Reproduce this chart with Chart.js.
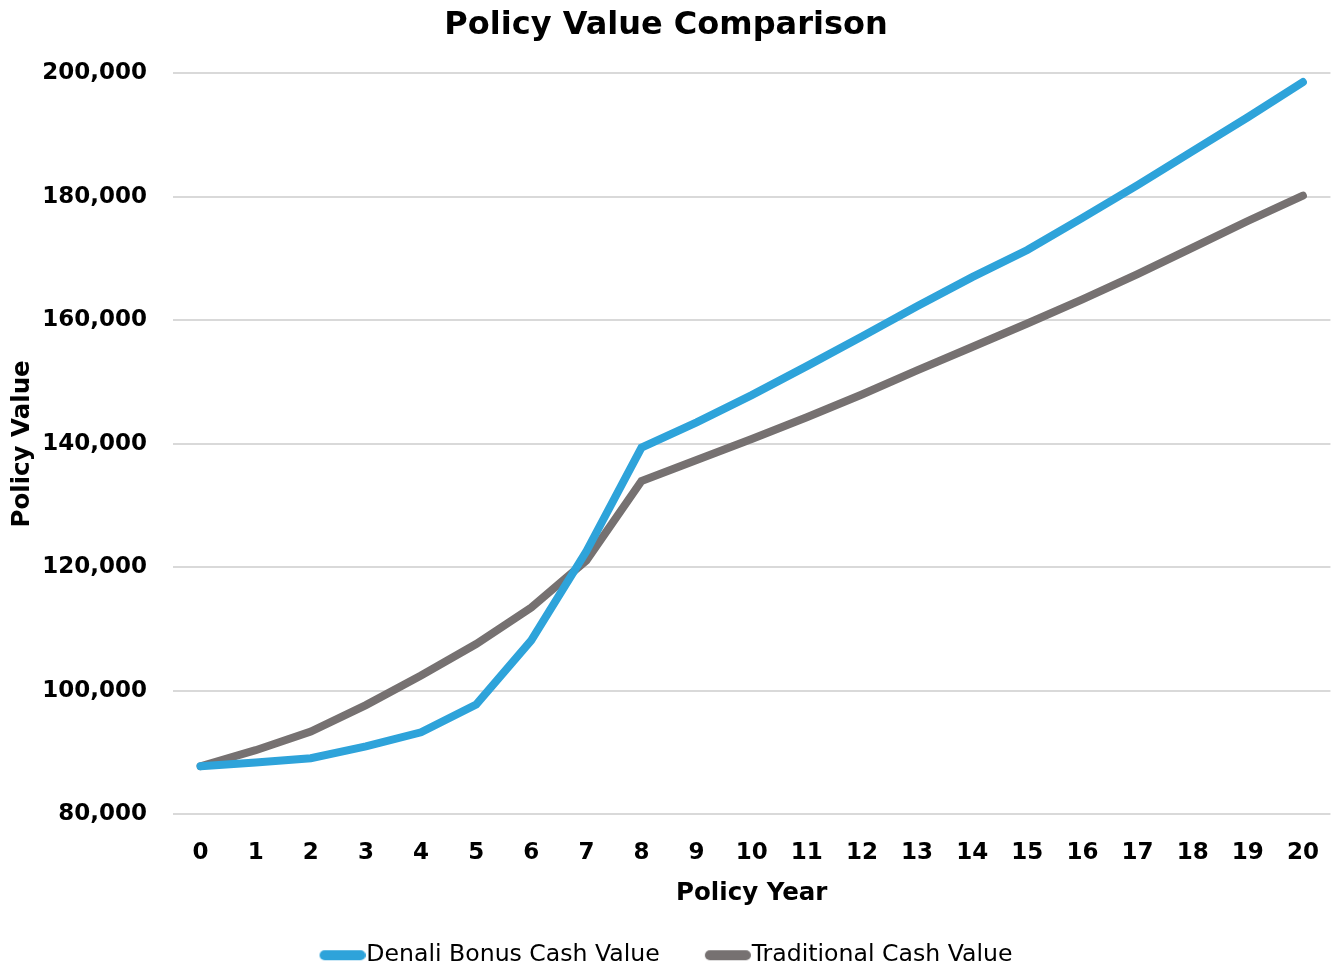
<!DOCTYPE html>
<html>
<head>
<meta charset="utf-8">
<script src="https://cdn.jsdelivr.net/npm/chart.js@4"></script>
<style>
  body { margin: 0; background: #fff; }
  #wrap { width: 1336px; height: 968px; }
</style>
</head>
<body>
<div id="wrap"><canvas id="chart" width="1336" height="968"></canvas></div>
<script>
const years = ['0', '1', '2', '3', '4', '5', '6', '7', '8', '9', '10',
  '11', '12', '13', '14', '15', '16', '17', '18', '19', '20'];

const denaliValues = [87800, 88400, 89100, 91000, 93300, 97800, 108200, 122600, 139400,
  143500, 147900, 152600, 157400, 162300, 167000, 171400, 176600, 181900, 187400, 192900, 198600];

const traditionalValues = [87800, 90400, 93400, 97700, 102500, 107600, 113500, 121100, 134000,
  137400, 140800, 144300, 148000, 151900, 155700, 159500, 163400, 167500, 171800, 176100, 180200];

const yTicks = [80000, 100000, 120000, 140000, 160000, 180000, 200000];

const BLUE = '#2EA3DA';
const GREY = '#767171';
const FONT = "'DejaVu Sans', sans-serif";
const SWATCH_BOX = 35;

// legend swatch: rounded bar that sits right against the label text
function makeSwatch(color) {
  const c = document.createElement('canvas');
  c.width = SWATCH_BOX + 22;
  c.height = 14;
  const g = c.getContext('2d');
  g.strokeStyle = color;
  g.lineWidth = 10;
  g.lineCap = 'round';
  g.beginPath();
  g.moveTo(c.width - 46 + 5, 7);
  g.lineTo(c.width - 5, 7);
  g.stroke();
  return c;
}

new Chart(document.getElementById('chart'), {
  type: 'line',
  data: {
    labels: years,
    datasets: [
      {
        label: 'Denali Bonus Cash Value',
        data: denaliValues,
        borderColor: BLUE,
        backgroundColor: BLUE,
        borderWidth: 8,
        borderCapStyle: 'round',
        pointRadius: 0,
        tension: 0
      },
      {
        label: 'Traditional Cash Value',
        data: traditionalValues,
        borderColor: GREY,
        backgroundColor: GREY,
        borderWidth: 8,
        borderCapStyle: 'round',
        pointRadius: 0,
        tension: 0
      }
    ]
  },
  options: {
    responsive: false,
    animation: false,
    layout: { padding: { left: 0, right: 4, top: 0, bottom: -9 } },
    plugins: {
      title: {
        display: true,
        text: 'Policy Value Comparison',
        color: '#000',
        font: { family: FONT, size: 32, weight: 'bold' },
        padding: { top: 6, bottom: 29 }
      },
      legend: {
        position: 'bottom',
        labels: {
          usePointStyle: true,
          pointStyleWidth: SWATCH_BOX,
          boxHeight: 10,
          color: '#000',
          padding: 45,
          font: { family: FONT, size: 23.6 },
          generateLabels: chart => {
            const items = Chart.defaults.plugins.legend.labels.generateLabels(chart);
            items.forEach(item => {
              item.pointStyle = makeSwatch(chart.data.datasets[item.datasetIndex].borderColor);
            });
            return items;
          }
        }
      },
      tooltip: { enabled: false }
    },
    scales: {
      x: {
        offset: true,
        grid: { display: false },
        border: { display: false },
        afterFit: axis => { axis.height = 84; },
        ticks: {
          color: '#000',
          padding: 17,
          font: { family: FONT, size: 23, weight: 'bold' }
        },
        title: {
          display: true,
          text: 'Policy Year',
          color: '#000',
          font: { family: FONT, size: 24.5, weight: 'bold' },
          padding: { top: 4, bottom: -10 }
        }
      },
      y: {
        min: 80000,
        max: 200000,
        afterBuildTicks: axis => {
          axis.ticks = yTicks.map(v => ({ value: v }));
        },
        afterFit: axis => { axis.width = 173; },
        grid: { color: '#D9D9D9', lineWidth: 2, drawTicks: false },
        border: { display: false },
        ticks: {
          color: '#000',
          padding: 26,
          font: { family: FONT, size: 23, weight: 'bold' },
          callback: v => v.toLocaleString('en-US')
        },
        title: {
          display: true,
          text: 'Policy Value',
          color: '#000',
          font: { family: FONT, size: 24.5, weight: 'bold' },
          padding: { top: 8, bottom: 4 }
        }
      }
    }
  }
});
</script>
</body>
</html>
